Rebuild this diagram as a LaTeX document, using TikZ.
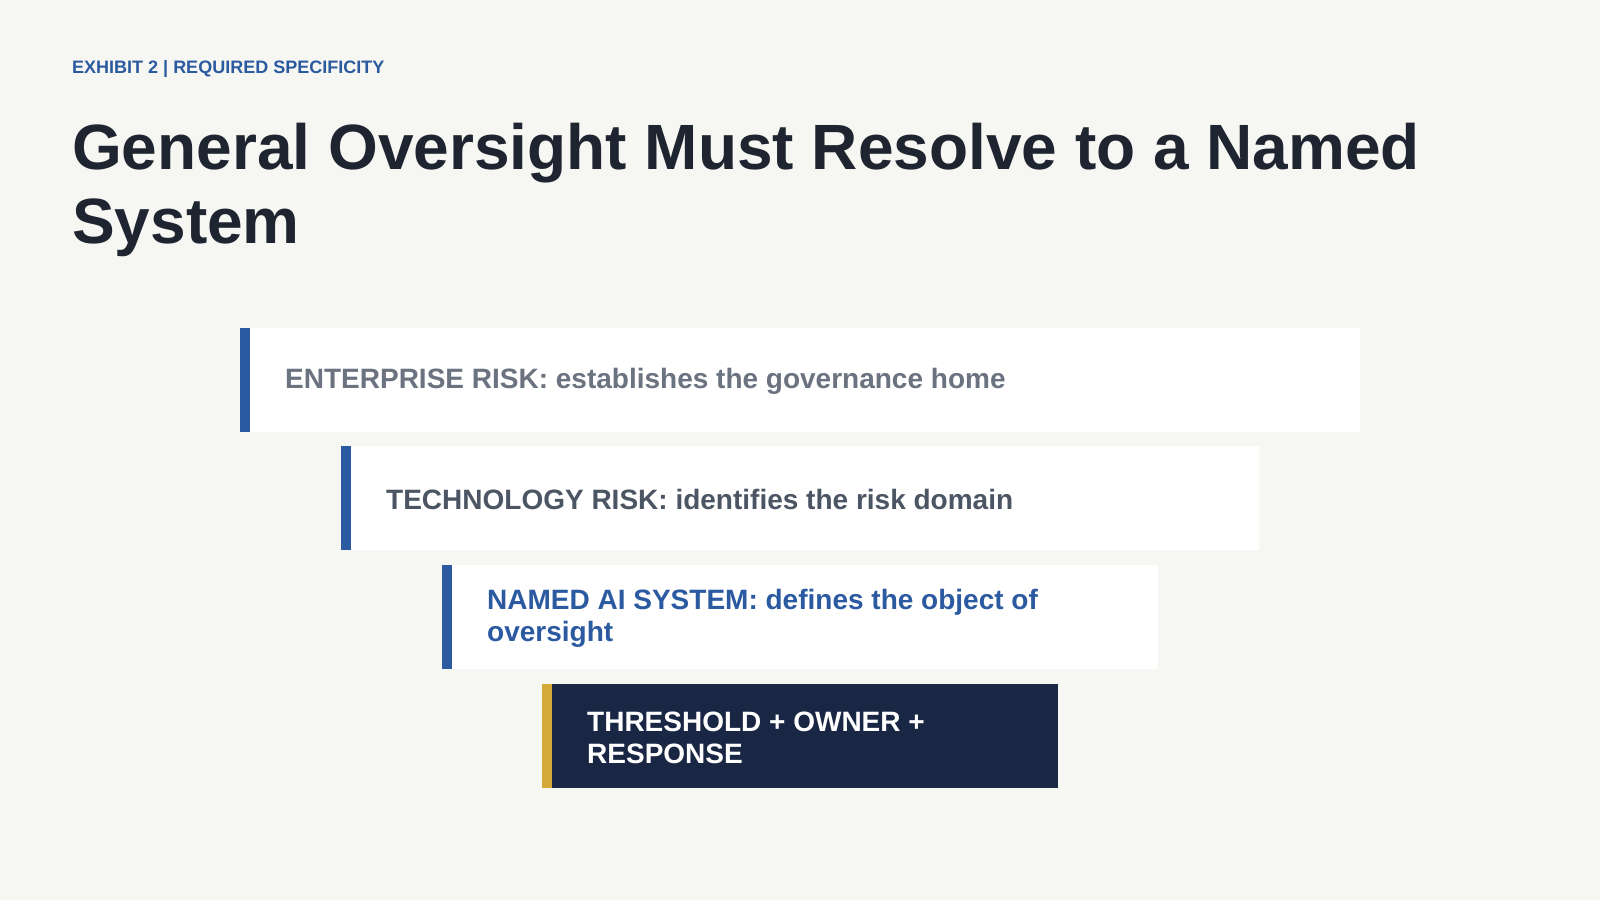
\documentclass[tikz,border=0pt]{standalone}
\usepackage{fontspec}
\setmainfont{Liberation Sans}
\definecolor{bg}{HTML}{F6F6F2}
\definecolor{accent}{HTML}{2B5AA0}
\definecolor{titlec}{HTML}{1F2530}
\definecolor{grayA}{HTML}{6B7280}
\definecolor{grayB}{HTML}{4B5563}
\definecolor{navy}{HTML}{1A2744}
\definecolor{gold}{HTML}{D4AA3A}
\begin{document}
\begin{tikzpicture}[x=1pt,y=-1pt,
  box/.style={rectangle, fill=white, draw=none, anchor=north west, minimum height=104pt, inner sep=0pt},
  darkbox/.style={box, fill=navy},
  bluebar/.style={fill=accent},
  goldbar/.style={fill=gold},
  lbl/.style={anchor=west, inner sep=0pt, align=left, font=\fontsize{28}{32}\selectfont\bfseries},
]
\fill[bg] (0,0) rectangle (1600,900);
\useasboundingbox (0,0) rectangle (1600,900);
\node[anchor=base west, inner sep=0pt, text=accent, font=\fontsize{18}{20}\selectfont\bfseries] (hdr) at (72,73.5) {EXHIBIT 2 | REQUIRED SPECIFICITY};
\node[anchor=base west, inner sep=0pt, text=titlec, align=left, font=\fontsize{64}{73.5}\selectfont\bfseries] (ttl) at (72,243) {General Oversight Must Resolve to a Named\\System};
% boxes
\node[box, minimum width=1120pt] (b1) at (240,327.5) {};
\fill[bluebar] (b1.north west) rectangle ([xshift=10pt]b1.south west);
\node[lbl, text=grayA] (t1) at ([xshift=45pt,yshift=-1.5pt]b1.west) {ENTERPRISE RISK: establishes the governance home};
\node[box, minimum width=918pt] (b2) at (341,446) {};
\fill[bluebar] (b2.north west) rectangle ([xshift=10pt]b2.south west);
\node[lbl, text=grayB] (t2) at ([xshift=45pt,yshift=-1.5pt]b2.west) {TECHNOLOGY RISK: identifies the risk domain};
\node[box, minimum width=716pt] (b3) at (442,565) {};
\fill[bluebar] (b3.north west) rectangle ([xshift=10pt]b3.south west);
\node[lbl, text=accent] (t3) at ([xshift=45pt,yshift=-1.5pt]b3.west) {NAMED AI SYSTEM: defines the object of\\oversight};
\node[darkbox, minimum width=516pt] (b4) at (542,684) {};
\fill[goldbar] (b4.north west) rectangle ([xshift=10pt]b4.south west);
\node[lbl, text=white] (t4) at ([xshift=45pt,yshift=-1.5pt]b4.west) {THRESHOLD + OWNER +\\RESPONSE};
\end{tikzpicture}
\end{document}
